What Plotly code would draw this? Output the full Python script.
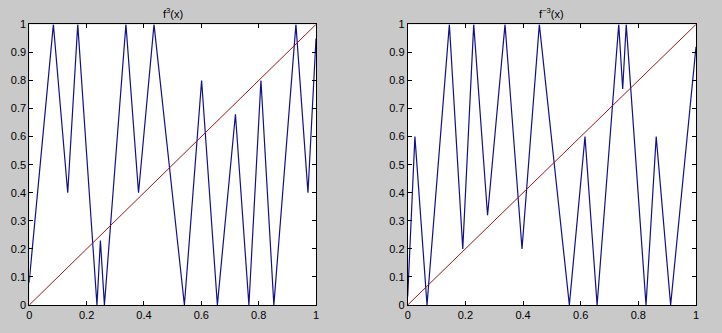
import plotly.graph_objects as go

# f^3(x) vertices (left panel)
x_left = [0.0, 0.003, 0.084, 0.134, 0.169, 0.236, 0.248, 0.262, 0.337, 0.381, 0.435,
          0.541, 0.601, 0.656, 0.719, 0.766, 0.808, 0.853, 0.930, 0.972, 1.0]
y_left = [0.08, 0.12, 1.0, 0.4, 1.0, 0.0, 0.23, 0.0, 1.0, 0.4, 1.0,
          0.0, 0.8, 0.0, 0.68, 0.0, 0.8, 0.0, 1.0, 0.4, 0.95]

# perturbed f^3(x) vertices (right panel)
x_right = [0.0, 0.003, 0.025, 0.067, 0.1445, 0.191, 0.229, 0.277, 0.3376, 0.3965, 0.4566,
           0.5607, 0.615, 0.657, 0.732, 0.7457, 0.758, 0.8266, 0.862, 0.912, 1.0]
y_right = [0.03, 0.1, 0.6, 0.0, 1.0, 0.2, 1.0, 0.32, 1.0, 0.2, 1.0,
           0.0, 0.6, 0.0, 1.0, 0.77, 1.0, 0.0, 0.6, 0.0, 0.92]

diag = [0.0, 1.0]

x_ticks = [0, 0.2, 0.4, 0.6, 0.8, 1]
x_tick_labels = ["0", "0.2", "0.4", "0.6", "0.8", "1"]
y_ticks = [0, 0.1, 0.2, 0.3, 0.4, 0.5, 0.6, 0.7, 0.8, 0.9, 1]
y_tick_labels = ["0", "0.1", "0.2", "0.3", "0.4", "0.5", "0.6", "0.7", "0.8", "0.9", "1"]

titles = ["f<sup>3</sup>(x)", "f<sup>~3</sup>(x)"]

BLUE = "#10108a"
RED = "#961818"
BG = "#c9c9c9"

fig = go.Figure()
for i, (xs, ys) in enumerate([(x_left, y_left), (x_right, y_right)]):
    xa = "x" if i == 0 else "x2"
    ya = "y" if i == 0 else "y2"
    fig.add_trace(go.Scatter(x=xs, y=ys, mode="lines", line=dict(color=BLUE, width=1.2),
                             xaxis=xa, yaxis=ya, showlegend=False, hoverinfo="skip"))
    fig.add_trace(go.Scatter(x=diag, y=diag, mode="lines", line=dict(color=RED, width=1),
                             xaxis=xa, yaxis=ya, showlegend=False, hoverinfo="skip"))

font = dict(family="Liberation Sans, Arial", size=11, color="black")
common_x = dict(range=[0, 1], tickvals=x_ticks, ticktext=x_tick_labels, ticks="inside",
                ticklen=4, tickcolor="black", showline=True, linecolor="black", linewidth=1,
                mirror="allticks", showgrid=False, zeroline=False, automargin=False,
                tickfont=font)
common_y = dict(range=[0, 1], tickvals=y_ticks, ticktext=y_tick_labels, ticks="inside",
                ticklen=4, tickcolor="black", showline=True, linecolor="black", linewidth=1,
                mirror="allticks", showgrid=False, zeroline=False, automargin=False,
                tickfont=font)

dom_y = [28 / 333, 308.6 / 333]
fig.update_layout(
    width=722, height=333,
    margin=dict(l=0, r=0, t=0, b=0),
    paper_bgcolor=BG, plot_bgcolor="white",
    xaxis=dict(domain=[29.3 / 722, 316 / 722], anchor="y", **common_x),
    yaxis=dict(domain=dom_y, anchor="x", **common_y),
    xaxis2=dict(domain=[407.7 / 722, 696 / 722], anchor="y2", **common_x),
    yaxis2=dict(domain=dom_y, anchor="x2", **common_y),
)

centers = [(29.3 + 316) / 2 / 722, (407.7 + 696) / 2 / 722]
for c, t in zip(centers, titles):
    fig.add_annotation(text=t, x=c, y=1 - 13 / 333, xref="paper", yref="paper",
                       showarrow=False, xanchor="center", yanchor="middle",
                       font=font)

fig.write_html("out.html",
               config={"displayModeBar": False, "staticPlot": True},
               post_script="document.body.style.margin='0';"
                           "document.body.style.overflow='hidden';"
                           "document.body.style.background='" + BG + "';")
